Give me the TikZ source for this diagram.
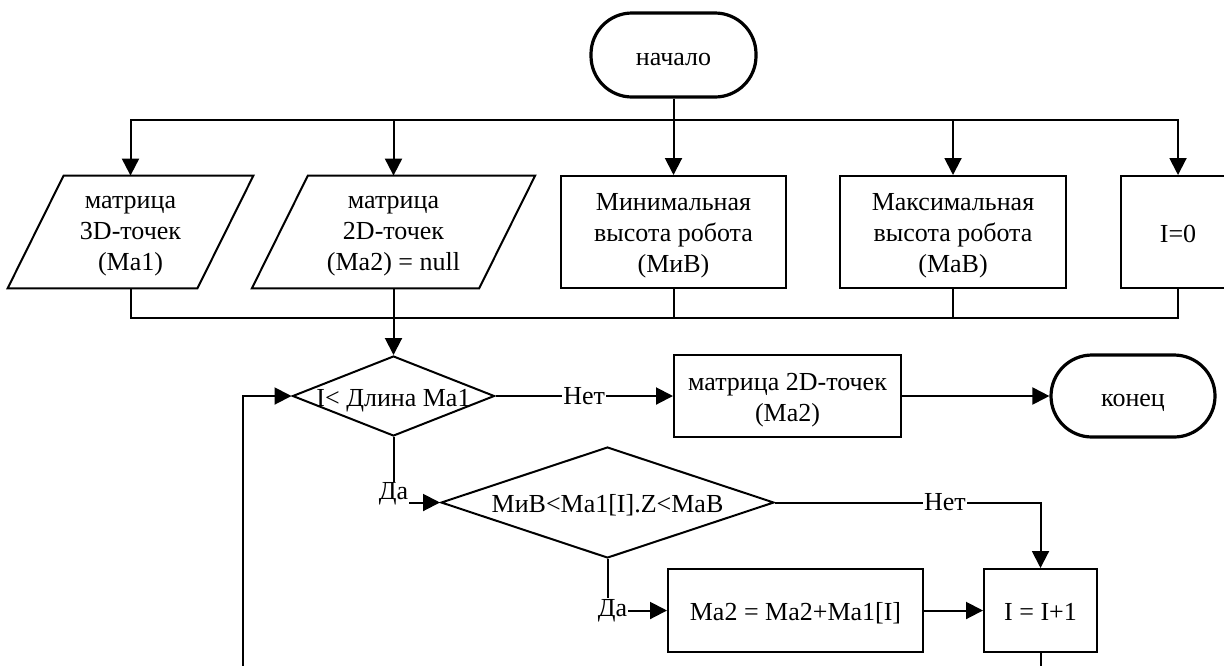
\documentclass[tikz,border=0pt]{standalone}
\usepackage{fontspec}
\setmainfont{Liberation Serif}
\usetikzlibrary{arrows.meta,shapes.geometric,calc}
\begin{document}
\begin{tikzpicture}[x=0.5pt,y=-0.5pt,
  every node/.style={font=\fontsize{13pt}{15.5pt}\selectfont, align=center},
  ln/.style={line width=1pt},
  arr/.style={ln,-{Triangle[length=8.5pt,width=8.5pt]}},
  term/.style={draw, line width=1.6pt, rounded corners=20.5pt, minimum width=82.5pt, minimum height=41pt, inner sep=0pt},
  box/.style={draw, line width=1pt, minimum height=56pt, inner sep=0pt},
  iobox/.style={minimum width=#1, minimum height=56pt, inner sep=0pt},
  dec/.style={draw, diamond, line width=1pt, inner sep=0pt},
  lab/.style={fill=white, inner sep=0.6pt},
  tone/.style={label={[text height=10pt, text depth=0pt, inner sep=0pt]center:{#1}}},
  tmany/.style={label={[yshift=-2pt]center:{#1}}}
]
\useasboundingbox (0,0) rectangle (1224,665);
\clip (0,0) rectangle (1224,665);

% nodes
\node[term, minimum height=42pt, tone={начало}] (start) at (673.5,55) {};
\node[iobox=94.5pt, tmany={матрица\\3D-точек\\(Ма1)}] (p1) at (130.5,232) {};
\node[iobox=113.25pt, tmany={матрица\\2D-точек\\(Ма2) = null}] (p2) at (393.5,232) {};
\node[box, minimum width=112.5pt, tmany={Минимальная\\высота робота\\(МиВ)}] (b3) at (673.5,232) {};
\node[box, minimum width=113pt, tmany={Максимальная\\высота робота\\(МаВ)}] (b4) at (953,232) {};
\node[box, minimum width=57pt, tone={I=0}] (b5) at (1178,232) {};

\draw[ln] ($(p1.south west)+(-28,0)$) -- ($(p1.north west)+(28,0)$) -- ($(p1.north east)+(28,0)$) -- ($(p1.south east)+(-28,0)$) -- cycle;
\draw[ln] ($(p2.south west)+(-28,0)$) -- ($(p2.north west)+(28,0)$) -- ($(p2.north east)+(28,0)$) -- ($(p2.south east)+(-28,0)$) -- cycle;

\node[dec, minimum width=101pt, minimum height=40pt, tone={I< Длина Ма1}] (d1) at (393.5,396) {};
\node[box, minimum width=113.5pt, minimum height=41pt, tmany={матрица 2D-точек\\(Ма2)}] (out) at (787.5,396) {};
\node[term, minimum width=82pt, tone={конец}] (end) at (1133,396) {};
\node[dec, minimum width=166.5pt, minimum height=55.5pt, tone={МиВ<Ма1[I].Z<МаВ}] (d2) at (607.5,502.5) {};
\node[box, minimum width=127.5pt, minimum height=41.5pt, tone={Ма2 = Ма2+Ма1[I]}] (sum) at (795.5,610.5) {};
\node[box, minimum width=56.5pt, minimum height=41.5pt, tone={I = I+1}] (inc) at (1040.5,610.5) {};

% junctions
\coordinate (bus) at (673.5,120);
\coordinate (bus2) at (393.5,318);
\coordinate (lp) at (243,700);

% connectors
\draw[arr] (start.south) -- (b3.north);
\draw[arr] (bus) -| (p1.north);
\draw[arr] (bus) -| (p2.north);
\draw[arr] (bus) -| (b4.north);
\draw[arr] (bus) -| (b5.north);
\draw[ln] (p1.south) |- (bus2);
\draw[ln] (b3.south) |- (bus2);
\draw[ln] (b4.south) |- (bus2);
\draw[ln] (b5.south) |- (bus2);
\draw[arr] (p2.south) -- (d1.north);

\draw[arr] (d1.east) -- node[lab]{Нет} (out.west);
\draw[arr] (out.east) -- (end.west);
\draw[arr] (d1.south) |- node[lab, yshift=4.25pt]{Да} (d2.west);
\draw[arr] (d2.south) |- node[lab, xshift=2.5pt]{Да} (sum.west);
\draw[arr] (d2.east) -| node[lab, pos=0.32]{Нет} (inc.north);
\draw[arr] (sum.east) -- (inc.west);
\draw[arr] (inc.south) |- (lp) |- (d1.west);
\end{tikzpicture}
\end{document}
